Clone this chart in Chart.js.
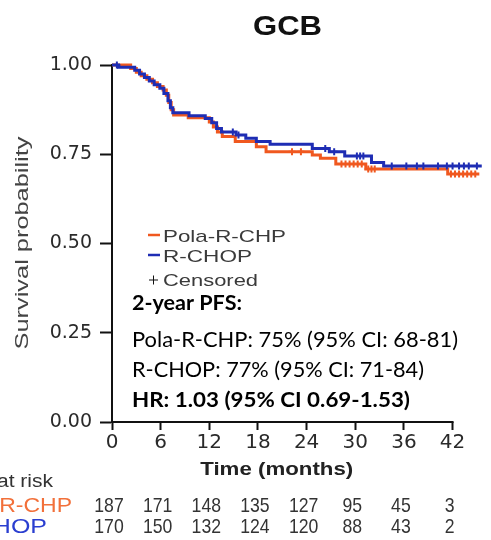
<!DOCTYPE html>
<html><head><meta charset="utf-8">
<script src="https://cdn.jsdelivr.net/npm/chart.js@4.4.0/dist/chart.umd.min.js"></script>
<style>html,body{margin:0;padding:0;background:#fff}#wrap{width:491px;height:540px;position:relative}</style>
</head><body><div id="wrap"><canvas id="c" width="491" height="540"></canvas></div>
<script>
// ---- data ----
const chartTitle = 'GCB';
const seriesNames = ['Pola-R-CHP', 'R-CHOP'];
const timeTicks = [0, 6, 12, 18, 24, 30, 36, 42];
const yTicks = [0, 0.25, 0.5, 0.75, 1];
const polaTimes = [0, 2.3, 3.0, 3.6, 4.3, 5.0, 5.6, 6.3, 6.7, 7.0, 7.3, 7.6, 9.4, 12.0, 12.5, 13.0, 13.6, 15.2, 17.8, 19.0, 24.7, 25.7, 27.6, 31.3, 41.4, 45.3];
const polaSurv  = [1.0, 0.99, 0.98, 0.97, 0.96, 0.95, 0.94, 0.93, 0.915, 0.895, 0.875, 0.86, 0.852, 0.84, 0.826, 0.812, 0.80, 0.786, 0.771, 0.757, 0.748, 0.739, 0.723, 0.709, 0.695, 0.695];
const rchopTimes = [0, 0.8, 2.8, 3.4, 4.0, 4.6, 5.2, 5.9, 6.4, 6.9, 7.2, 7.5, 9.5, 11.5, 12.3, 12.9, 13.5, 15.3, 16.5, 17.8, 19.5, 24.7, 26.8, 28.7, 32.0, 33.5, 45.6];
const rchopSurv  = [1.0, 0.994, 0.985, 0.975, 0.965, 0.955, 0.945, 0.935, 0.92, 0.90, 0.88, 0.866, 0.858, 0.85, 0.838, 0.822, 0.812, 0.804, 0.795, 0.786, 0.778, 0.766, 0.757, 0.745, 0.727, 0.717, 0.717];
const polaCensorTimes = [22.2, 23.3, 28.3, 28.8, 29.3, 29.8, 30.3, 30.8, 31.6, 32.0, 32.4, 41.8, 42.3, 42.8, 43.3, 43.8, 44.3, 44.8];
const rchopCensorTimes = [0.6, 14.9, 15.6, 26.3, 27.4, 30.2, 30.6, 31.0, 34.5, 36.3, 37.6, 38.4, 40.2, 41.3, 42.0, 42.8, 43.4, 44.0, 45.0];
const polaAtRisk = [187, 171, 148, 135, 127, 95, 45, 3];
const rchopAtRisk = [170, 150, 132, 124, 120, 88, 43, 2];
const statsLines = ['2-year PFS:', 'Pola-R-CHP: 75% (95% CI: 68-81)', 'R-CHOP: 77% (95% CI: 71-84)', 'HR: 1.03 (95% CI 0.69-1.53)'];

// ---- styles ----
const ORANGE = '#F0581F';
const BLUE = '#1E2DB4';
const ORANGE_TXT = '#F2703A';
const BLUE_TXT = '#2A3ED0';

function survAt(times, surv, t) {
  let s = surv[0];
  for (let i = 0; i < times.length; i++) if (times[i] <= t) s = surv[i];
  return s;
}
const toPts = (ts, ss) => ts.map((t, i) => ({x: t, y: ss[i]}));
const censorPts = (ct, ts, ss) => ct.map(t => ({x: t, y: survAt(ts, ss, t)}));

function measure(ctx, text, font) {
  ctx.save(); ctx.font = font; const w = ctx.measureText(text).width; ctx.restore(); return w;
}
function fitText(ctx, text, x, y, font, color, align, width, rot) {
  ctx.save();
  ctx.font = font;
  ctx.fillStyle = color;
  ctx.textBaseline = 'alphabetic';
  ctx.textAlign = align;
  const w = ctx.measureText(text).width;
  const s = width ? width / w : 1;
  ctx.translate(x, y);
  if (rot) ctx.rotate(rot);
  ctx.scale(s, 1);
  ctx.fillText(text, 0, 0);
  ctx.restore();
}

const decor = {
  id: 'decor',
  afterDraw(chart) {
    const ctx = chart.ctx;
    const xs = chart.scales.x, ys = chart.scales.y;
    const y0 = ys.getPixelForValue(0);
    // x axis line (0 .. 42)
    ctx.save();
    ctx.strokeStyle = '#111'; ctx.lineWidth = 2;
    ctx.beginPath();
    ctx.moveTo(xs.getPixelForValue(timeTicks[0]) - 1, y0);
    ctx.lineTo(xs.getPixelForValue(timeTicks[timeTicks.length - 1]) + 1, y0);
    ctx.stroke();
    ctx.restore();

    // title
    fitText(ctx, chartTitle, 287.5, 35, 'bold 28px "Liberation Sans"', '#111', 'center', 69);
    // y axis title
    fitText(ctx, 'Survival probability', 28, 243, '18px "Liberation Sans"', '#444', 'center', 213, -Math.PI / 2);
    // x axis title
    fitText(ctx, 'Time (months)', 276.7, 475, 'bold 18px "Liberation Sans"', '#222', 'center', 153);

    // legend
    const lg = [
      {name: seriesNames[0], color: ORANGE, y: 242, w: 123},
      {name: seriesNames[1], color: BLUE, y: 262, w: 89}
    ];
    lg.forEach(it => {
      ctx.save();
      ctx.strokeStyle = it.color; ctx.lineWidth = 2.5;
      ctx.beginPath(); ctx.moveTo(148, it.y - 7); ctx.lineTo(160, it.y - 7); ctx.stroke();
      ctx.restore();
      fitText(ctx, it.name, 163, it.y, '17px "Liberation Sans"', '#3a3a3a', 'left', it.w);
    });
    ctx.save(); ctx.strokeStyle = '#111'; ctx.fillStyle = '#111';
    Chart.helpers.drawPoint(ctx, {pointStyle: 'cross', radius: 4.5, rotation: 0, borderWidth: 2.6}, 153.5, 280);
    ctx.restore();
    fitText(ctx, 'Censored', 163, 286, '17px "Liberation Sans"', '#3a3a3a', 'left', 95);

    // stats block
    fitText(ctx, statsLines[0], 132, 310, 'bold 21px Lato', '#000', 'left', 110);
    fitText(ctx, statsLines[1], 132, 347, '21px Lato', '#000', 'left', 326);
    fitText(ctx, statsLines[2], 132, 376.7, '21px Lato', '#000', 'left', 292);
    fitText(ctx, statsLines[3], 132, 406.7, 'bold 21px Lato', '#000', 'left', 278);

    // risk table
    const rf = '18px "Liberation Sans"';
    const sc = 56 / measure(ctx, 'at risk', rf);
    fitText(ctx, 'Number at risk', 53, 486.7, rf, '#333', 'right', measure(ctx, 'Number at risk', rf) * sc);
    const lf = '20px "Liberation Sans"';
    fitText(ctx, seriesNames[0], 72, 511.5, lf, ORANGE_TXT, 'right', measure(ctx, seriesNames[0], lf) * 1.15);
    fitText(ctx, seriesNames[1], 47, 532.5, lf, BLUE_TXT, 'right', measure(ctx, seriesNames[1], lf) * 1.25);
    const nf = '21px "Liberation Sans"';
    timeTicks.forEach((t, i) => {
      const px = xs.getPixelForValue(t);
      const a = String(polaAtRisk[i]), b = String(rchopAtRisk[i]);
      fitText(ctx, a, px - 3, 512, nf, '#333', 'center', measure(ctx, a, nf) * 0.84);
      fitText(ctx, b, px - 3, 533, nf, '#333', 'center', measure(ctx, b, nf) * 0.84);
    });
  }
};

Chart.defaults.font.family = '"Liberation Sans", Arial, sans-serif';

new Chart(document.getElementById('c'), {
  type: 'line',
  data: {
    datasets: [
      {label: seriesNames[0], data: toPts(polaTimes, polaSurv), borderColor: ORANGE, borderWidth: 3, stepped: true, pointRadius: 0, fill: false, clip: 6, order: 2},
      {label: seriesNames[1], data: toPts(rchopTimes, rchopSurv), borderColor: BLUE, borderWidth: 3, stepped: true, pointRadius: 0, fill: false, clip: 6, order: 1},
      {label: 'Censored', data: censorPts(polaCensorTimes, polaTimes, polaSurv), showLine: false, pointStyle: 'cross', pointRadius: 3.5, pointBorderWidth: 2, borderColor: ORANGE, backgroundColor: ORANGE, clip: 6, order: 2},
      {label: 'Censored', data: censorPts(rchopCensorTimes, rchopTimes, rchopSurv), showLine: false, pointStyle: 'cross', pointRadius: 3.5, pointBorderWidth: 2, borderColor: BLUE, backgroundColor: BLUE, clip: 6, order: 1}
    ]
  },
  options: {
    responsive: false,
    animation: false,
    devicePixelRatio: 1,
    layout: {padding: {left: 0, top: 65, right: 1, bottom: 0}},
    plugins: {legend: {display: false}, tooltip: {enabled: false}, title: {display: false}},
    scales: {
      x: {
        type: 'linear', min: 0, max: 46,
        afterFit: s => { s.height = 118; },
        afterBuildTicks: s => { s.ticks = timeTicks.map(v => ({value: v})); },
        ticks: {font: {family: '"DejaVu Sans", sans-serif', size: 20}, color: '#2a2a2a', padding: 1, maxRotation: 0, autoSkip: false},
        grid: {drawOnChartArea: false, drawTicks: true, tickLength: 8, tickWidth: 2, tickColor: '#111'},
        border: {display: false}
      },
      y: {
        min: 0, max: 1,
        afterFit: s => { s.width = 112; },
        afterBuildTicks: s => { s.ticks = yTicks.map(v => ({value: v})); },
        ticks: {font: {family: '"DejaVu Sans", sans-serif', size: 19}, color: '#2a2a2a', padding: 8, callback: v => Number(v).toFixed(2)},
        grid: {drawOnChartArea: false, drawTicks: true, tickLength: 12, tickWidth: 2, tickColor: '#111'},
        border: {display: true, color: '#111', width: 2}
      }
    }
  },
  plugins: [decor]
});
</script></body></html>
